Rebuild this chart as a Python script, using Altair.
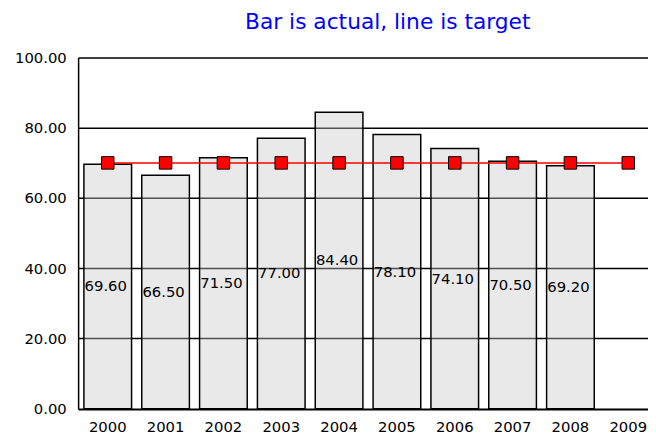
import altair as alt
import pandas as pd

years = ["2000", "2001", "2002", "2003", "2004", "2005", "2006", "2007", "2008", "2009"]
actual_years = ["2000", "2001", "2002", "2003", "2004", "2005", "2006", "2007", "2008"]
actual = [69.6, 66.5, 71.5, 77.0, 84.4, 78.1, 74.1, 70.5, 69.2]
target = [70, 70, 70, 70, 70, 70, 70, 70, 70, 70]
y_ticks = [0, 20, 40, 60, 80, 100]
title_text = "Bar is actual, line is target"

bars_df = pd.DataFrame({"year": actual_years, "actual": actual})
line_df = pd.DataFrame({"year": years, "target": target})

FONT = "DejaVu Sans"

x_scale = alt.Scale(domain=years, range=[0, 587], paddingInner=0.176, paddingOuter=0.1)
y_scale = alt.Scale(domain=[0, 100], nice=False)

x_axis = alt.Axis(
    title=None, labelFont=FONT, labelFontSize=15, labelColor="black",
    ticks=False, domainColor="black", domainWidth=1.5, labelPadding=11,
    grid=False, labelAngle=0,
)
y_axis = alt.Axis(
    title=None, values=y_ticks, format=".2f", labelFont=FONT, labelFontSize=15,
    labelColor="black", grid=True, gridColor="black", gridWidth=1.5, gridOpacity=1,
    ticks=False, labelPadding=12, domainColor="black", domainWidth=1.5,
)

bars = alt.Chart(bars_df).mark_bar(
    fill="#c8c8c8", fillOpacity=0.4, stroke="black", strokeWidth=1.5
).encode(
    x=alt.X("year:N", scale=x_scale, axis=x_axis),
    y=alt.Y("actual:Q", scale=y_scale, axis=y_axis),
)

labels = alt.Chart(bars_df).transform_calculate(
    mid="datum.actual / 2"
).mark_text(
    font=FONT, fontSize=15, color="black", baseline="middle", dx=-2
).encode(
    x=alt.X("year:N", scale=x_scale),
    y=alt.Y("mid:Q", scale=y_scale),
    text=alt.Text("actual:Q", format=".2f"),
)

line = alt.Chart(line_df).mark_line(color="red", strokeWidth=1.5).encode(
    x=alt.X("year:N", scale=x_scale),
    y=alt.Y("target:Q", scale=y_scale),
)

pts = alt.Chart(line_df).mark_point(
    shape="square", filled=True, fill="red", stroke="black",
    strokeWidth=1, size=160, opacity=1,
).encode(
    x=alt.X("year:N", scale=x_scale),
    y=alt.Y("target:Q", scale=y_scale),
)

chart = alt.layer(bars, labels, line, pts).properties(
    width=577,
    height=355.5,
    title=alt.TitleParams(
        text=title_text, anchor="middle", dx=25, fontSize=22, font=FONT,
        fontWeight="normal", color="blue", baseline="alphabetic", offset=0,
        frame="group",
    ),
    autosize=alt.AutoSizeParams(type="none"),
    padding={"left": 71, "top": 47.5, "right": 0, "bottom": 27},
).configure_view(stroke=None)

chart.save("out.html", embed_options={"renderer": "svg", "actions": False})
